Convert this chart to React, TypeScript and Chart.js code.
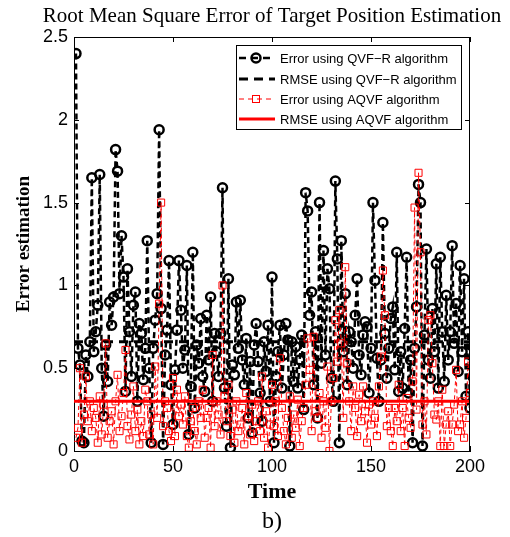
import React, { useEffect, useRef } from "react";
import { Chart, registerables } from "chart.js";

Chart.register(...registerables);

// ---- data ----
const titleText = "Root Mean Square Error of Target Position Estimation";
const xLabel = "Time";
const yLabel = "Error estimation";
const captionText = "b)";
const legendLabels = [
  "Error using QVF\u2212R algorithm",
  "RMSE using QVF\u2212R algorithm",
  "Error using AQVF algorithm",
  "RMSE using AQVF algorithm",
];

const qvfrError = [
  2.40, 0.62, 0.52, 0.06, 0.05, 0.58, 0.45, 0.66, 1.65, 0.60,
  0.72, 0.88, 1.67, 0.50, 0.21, 0.64, 0.42, 0.90, 0.76, 0.93,
  1.82, 1.69, 0.95, 1.30, 1.05, 0.36, 1.10, 0.72, 0.45, 0.88,
  0.96, 0.30, 0.77, 0.71, 0.43, 0.62, 1.27, 0.50, 0.05, 0.62,
  0.79, 0.95, 1.94, 0.86, 0.04, 0.58, 0.73, 1.15, 0.40, 0.16,
  0.49, 0.73, 1.15, 0.85, 0.50, 0.61, 1.12, 0.10, 0.39, 1.20,
  0.26, 0.64, 0.53, 0.80, 0.45, 0.36, 0.82, 0.55, 0.93, 0.30,
  0.71, 0.60, 0.45, 0.71, 1.59, 0.38, 0.15, 1.04, 0.02, 0.52,
  0.46, 0.90, 0.62, 0.91, 0.55, 0.40, 0.68, 0.20, 0.54, 0.11,
  0.64, 0.77, 0.54, 0.35, 0.18, 0.66, 0.48, 0.76, 0.30, 1.05,
  0.05, 0.45, 0.60, 0.76, 0.38, 0.58, 0.77, 0.67, 0.03, 0.66,
  0.42, 0.63, 0.38, 0.55, 0.70, 0.25, 1.56, 1.45, 0.82, 0.96,
  0.40, 0.72, 0.20, 1.50, 0.53, 1.21, 0.58, 1.10, 0.98, 0.44,
  0.30, 1.63, 1.16, 0.05, 1.27, 0.60, 0.95, 0.40, 0.72, 0.66,
  0.50, 0.82, 1.04, 0.58, 0.46, 0.70, 0.78, 0.75, 0.35, 0.62,
  1.50, 1.03, 0.56, 0.30, 0.55, 1.38, 0.71, 0.44, 0.62, 0.80,
  0.87, 0.49, 1.20, 0.36, 0.60, 0.38, 0.74, 1.17, 0.35, 0.55,
  0.05, 0.62, 0.87, 1.61, 1.50, 0.03, 0.70, 1.22, 0.55, 0.44,
  0.86, 0.60, 1.13, 0.38, 1.17, 0.72, 0.42, 0.94, 0.55, 0.72,
  1.24, 0.65, 0.89, 0.48, 1.12, 0.60, 1.04, 0.33, 0.72, 0.26,
];

const aqvfError = [
  0.08, 0.14, 0.50, 0.05, 0.22, 0.45, 0.18, 0.30, 0.12, 0.26,
  0.20, 0.05, 0.33, 0.10, 0.28, 0.65, 0.08, 0.18, 0.24, 0.04,
  0.30, 0.46, 0.12, 0.21, 0.35, 0.61, 0.15, 0.07, 0.22, 0.39,
  0.12, 0.25, 0.04, 0.18, 0.09, 0.37, 0.30, 0.10, 0.22, 0.04,
  0.51, 0.20, 0.89, 1.50, 0.15, 0.30, 0.26, 0.12, 0.06, 0.44,
  0.09, 0.37, 0.21, 0.28, 0.16, 0.33, 0.09, 0.02, 0.18, 0.26,
  0.12, 0.04, 0.30, 0.20, 0.37, 0.08, 0.20, 0.26, 0.02, 0.58,
  0.15, 0.30, 0.22, 0.10, 1.00, 0.33, 0.18, 0.40, 0.09, 0.25,
  0.05, 0.30, 0.12, 0.16, 0.26, 0.04, 0.35, 0.21, 0.10, 0.28,
  0.06, 0.18, 0.30, 0.12, 0.45, 0.08, 0.24, 0.02, 0.16, 0.40,
  0.15, 0.30, 0.09, 0.56, 0.26, 0.12, 0.04, 0.20, 0.33, 0.08,
  0.22, 0.14, 0.31, 0.03, 0.18, 0.26, 0.40, 0.68, 0.49, 0.12,
  0.69, 0.24, 0.20, 0.35, 0.08, 0.30, 0.14, 0.51, 0.00, 0.30,
  0.44, 0.79, 0.54, 0.85, 0.65, 0.20, 1.11, 0.53, 0.30, 0.12,
  0.39, 0.26, 0.09, 0.34, 0.18, 0.39, 0.24, 0.05, 0.28, 0.16,
  0.30, 0.20, 0.09, 0.39, 0.57, 1.09, 0.82, 0.15, 0.26, 0.12,
  0.03, 0.26, 0.18, 0.40, 0.12, 0.26, 0.03, 0.32, 0.20, 0.14,
  0.42, 1.47, 0.25, 1.68, 1.20, 0.16, 0.30, 0.10, 0.79, 0.82,
  0.53, 0.22, 0.19, 0.30, 0.03, 0.37, 0.03, 0.16, 0.24, 0.03,
  0.16, 0.28, 0.49, 0.12, 0.16, 0.30, 0.08, 0.20, 0.54, 0.35,
];

const timeSteps = qvfrError.map((_, i) => i + 1);
const rmseQvfr = 0.66;
const rmseAqvf = 0.3;
const xRange = [0, 200];
const yRange = [0, 2.5];
const xTickStep = 50;
const yTickStep = 0.5;

const BLACK = "#000000";
const RED = "#ff0000";

const framePlugin = {
  id: "framePlugin",
  afterDraw(chart: any) {
    const { ctx, chartArea } = chart;
    const { left, right, top, bottom } = chartArea;
    const xs = chart.scales.x;
    const ys = chart.scales.y;
    ctx.save();
    // frame
    ctx.strokeStyle = BLACK;
    ctx.lineWidth = 1;
    ctx.setLineDash([]);
    ctx.beginPath();
    ctx.moveTo(left, top + 0.5);
    ctx.lineTo(right, top + 0.5);
    ctx.moveTo(right - 0.5, top);
    ctx.lineTo(right - 0.5, bottom);
    ctx.stroke();
    // inward ticks
    const tl = 5;
    ctx.beginPath();
    xs.ticks.forEach((t: any) => {
      const px = Math.round(xs.getPixelForValue(t.value)) + 0.5;
      ctx.moveTo(px, bottom);
      ctx.lineTo(px, bottom - tl);
      ctx.moveTo(px, top);
      ctx.lineTo(px, top + tl);
    });
    ys.ticks.forEach((t: any) => {
      const py = Math.round(ys.getPixelForValue(t.value)) + 0.5;
      ctx.moveTo(left, py);
      ctx.lineTo(left + tl, py);
      ctx.moveTo(right, py);
      ctx.lineTo(right - tl, py);
    });
    ctx.stroke();

    // title
    const cx = (left + right) / 2;
    ctx.fillStyle = BLACK;
    ctx.textAlign = "center";
    ctx.textBaseline = "alphabetic";
    ctx.font = '21px "Liberation Serif", "Times New Roman", serif';
    ctx.fillText(titleText, cx, 22);
    // x label
    ctx.font = 'bold 22px "Liberation Serif", "Times New Roman", serif';
    ctx.fillText(xLabel, cx, 498);
    // caption
    ctx.font = '24px "Liberation Serif", "Times New Roman", serif';
    ctx.fillText(captionText, cx, 528);
    // y label
    ctx.save();
    ctx.translate(29, (top + bottom) / 2);
    ctx.rotate(-Math.PI / 2);
    ctx.font = 'bold 19px "Liberation Serif", "Times New Roman", serif';
    ctx.fillText(yLabel, 0, 0);
    ctx.restore();

    // legend
    const bx = 236, by = 45, bw = 225, bh = 84;
    ctx.fillStyle = "#ffffff";
    ctx.fillRect(bx, by, bw, bh);
    ctx.strokeStyle = BLACK;
    ctx.lineWidth = 1;
    ctx.strokeRect(bx + 0.5, by + 0.5, bw, bh);
    const rows = [58, 79, 99, 119];
    const lx0 = 239, lx1 = 275, mx = 256;
    // row 1
    ctx.strokeStyle = BLACK;
    ctx.lineWidth = 2.5;
    ctx.setLineDash([7, 5]);
    ctx.beginPath();
    ctx.moveTo(lx0, rows[0]);
    ctx.lineTo(lx1, rows[0]);
    ctx.stroke();
    ctx.setLineDash([]);
    ctx.beginPath();
    ctx.arc(mx, rows[0], 4.5, 0, Math.PI * 2);
    ctx.stroke();
    // row 2
    ctx.lineWidth = 3;
    ctx.setLineDash([9, 6]);
    ctx.beginPath();
    ctx.moveTo(lx0, rows[1]);
    ctx.lineTo(lx1, rows[1]);
    ctx.stroke();
    // row 3
    ctx.strokeStyle = RED;
    ctx.lineWidth = 1;
    ctx.setLineDash([5, 4]);
    ctx.beginPath();
    ctx.moveTo(lx0, rows[2]);
    ctx.lineTo(lx1, rows[2]);
    ctx.stroke();
    ctx.setLineDash([]);
    ctx.strokeRect(mx - 3.5, rows[2] - 3.5, 7, 7);
    // row 4
    ctx.lineWidth = 3;
    ctx.beginPath();
    ctx.moveTo(lx0, rows[3]);
    ctx.lineTo(lx1, rows[3]);
    ctx.stroke();
    // texts
    ctx.fillStyle = BLACK;
    ctx.textAlign = "left";
    ctx.textBaseline = "middle";
    ctx.font = '13px "Liberation Sans", Arial, sans-serif';
    legendLabels.forEach((lab, i) => ctx.fillText(lab, 280, rows[i] + 1));
    ctx.restore();
  },
};

export default function App() {
  const ref = useRef<HTMLCanvasElement | null>(null);
  useEffect(() => {
    if (!ref.current) return;
    const tickFont = { family: '"Liberation Sans", Arial, sans-serif', size: 18 };
    const chart = new Chart(ref.current, {
      type: "line",
      data: {
        datasets: [
          {
            label: legendLabels[3],
            data: [
              { x: xRange[0], y: rmseAqvf },
              { x: xRange[1], y: rmseAqvf },
            ],
            borderColor: RED,
            borderWidth: 3,
            pointRadius: 0,
            order: 1,
          },
          {
            label: legendLabels[2],
            data: timeSteps.map((t, i) => ({ x: t, y: aqvfError[i] })),
            borderColor: RED,
            borderWidth: 1,
            borderDash: [4, 3],
            pointStyle: "rect",
            pointRadius: 5,
            pointBorderWidth: 1,
            pointBorderColor: RED,
            pointBackgroundColor: "rgba(0,0,0,0)",
            order: 2,
          },
          {
            label: legendLabels[1],
            data: [
              { x: xRange[0], y: rmseQvfr },
              { x: xRange[1], y: rmseQvfr },
            ],
            borderColor: BLACK,
            borderWidth: 3,
            borderDash: [9, 6],
            pointRadius: 0,
            order: 3,
          },
          {
            label: legendLabels[0],
            data: timeSteps.map((t, i) => ({ x: t, y: qvfrError[i] })),
            borderColor: BLACK,
            borderWidth: 2.5,
            borderDash: [6, 4],
            pointStyle: "circle",
            pointRadius: 4.5,
            pointBorderWidth: 2.5,
            pointBorderColor: BLACK,
            pointBackgroundColor: "rgba(0,0,0,0)",
            order: 4,
          },
        ],
      },
      options: {
        animation: false,
        responsive: false,
        devicePixelRatio: 1,
        layout: { padding: { left: 0, top: 37, right: 40, bottom: 0 } },
        elements: { line: { tension: 0 } },
        plugins: {
          legend: { display: false },
          title: { display: false },
          tooltip: { enabled: false },
        },
        scales: {
          x: {
            type: "linear",
            min: xRange[0],
            max: xRange[1],
            grid: { display: false, drawTicks: false },
            border: { display: true, color: BLACK, width: 1 },
            ticks: {
              stepSize: xTickStep,
              color: BLACK,
              font: tickFont,
              padding: 5,
              maxRotation: 0,
            },
            afterFit: (s: any) => {
              s.height = 86;
            },
          },
          y: {
            type: "linear",
            min: yRange[0],
            max: yRange[1],
            grid: { display: false, drawTicks: false },
            border: { display: true, color: BLACK, width: 1 },
            ticks: {
              stepSize: yTickStep,
              color: BLACK,
              font: tickFont,
              padding: 6,
              callback: (v: any) => String(v),
            },
            afterFit: (s: any) => {
              s.width = 74;
            },
          },
        },
      } as any,
      plugins: [framePlugin],
    });
    return () => chart.destroy();
  }, []);
  return (
    <div
      style={{
        position: "fixed",
        left: 0,
        top: 0,
        width: 510,
        height: 537,
        background: "#ffffff",
      }}
    >
      <canvas ref={ref} width={510} height={537} />
    </div>
  );
}
